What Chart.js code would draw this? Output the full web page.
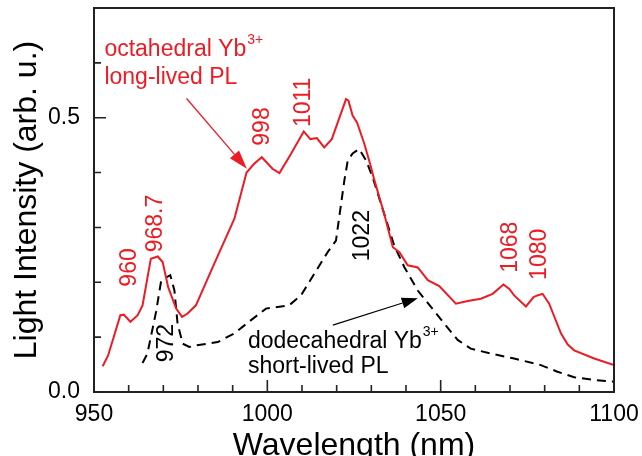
<!DOCTYPE html>
<html>
<head>
<meta charset="utf-8">
<script src="https://cdn.jsdelivr.net/npm/chart.js@4"></script>
<style>
  body { margin: 0; background: #fff; }
  canvas { display: block; }
</style>
</head>
<body>
<canvas id="pl_chart" width="642" height="456"></canvas>
<script>
// octahedral Yb3+ (long-lived PL), red solid
var octaWl = [952.5, 954.1, 957.6, 958.6, 960.5, 962.6, 964.0, 966.4, 968.4, 969.8, 971.4, 973.7, 975.4, 977.0, 979.4,
  984.7, 990.5, 994.0, 996.2, 998.4, 1001.5, 1003.5, 1006.8, 1010.5, 1012.4, 1014.3, 1016.4, 1018.6, 1022.7, 1023.4,
  1024.6, 1025.9, 1028.0, 1029.9, 1030.8, 1033.7, 1036.2, 1038.1, 1040.5, 1043.4, 1046.3, 1049.6, 1054.4, 1057.8,
  1061.6, 1065.0, 1068.1, 1069.8, 1071.2, 1074.6, 1076.8, 1077.9, 1079.4, 1081.3, 1084.7, 1086.6, 1088.5, 1094.3, 1100];
var octaInt = [0.047, 0.067, 0.140, 0.141, 0.128, 0.140, 0.158, 0.243, 0.247, 0.237, 0.191, 0.152, 0.137, 0.143, 0.158,
  0.234, 0.316, 0.400, 0.416, 0.428, 0.407, 0.399, 0.434, 0.475, 0.461, 0.463, 0.446, 0.461, 0.534, 0.531,
  0.504, 0.491, 0.452, 0.410, 0.388, 0.325, 0.264, 0.255, 0.231, 0.227, 0.204, 0.193, 0.161, 0.166,
  0.170, 0.179, 0.196, 0.188, 0.176, 0.156, 0.173, 0.176, 0.179, 0.161, 0.107, 0.087, 0.076, 0.061, 0.049];

// dodecahedral Yb3+ (short-lived PL), black dashed
var dodeWl = [964.0, 965.4, 967.9, 969.3, 970.3, 972.0, 973.2, 974.1, 975.6, 977.5, 979.4, 982.8, 985.7, 990.5, 995.3,
  999.6, 1006.3, 1009.7, 1013.6, 1017.4, 1019.8, 1022.2, 1023.2, 1024.6, 1026.5, 1028.5, 1030.4, 1033.7, 1036.6,
  1039.5, 1043.4, 1047.2, 1051.0, 1054.9, 1058.7, 1064.5, 1071.2, 1078.9, 1083.7, 1088.5, 1094.3, 1100];
var dodeInt = [0.053, 0.070, 0.146, 0.200, 0.207, 0.213, 0.185, 0.125, 0.088, 0.082, 0.085, 0.088, 0.091, 0.107, 0.131,
  0.152, 0.158, 0.176, 0.216, 0.255, 0.276, 0.385, 0.422, 0.435, 0.443, 0.422, 0.391, 0.325, 0.267,
  0.228, 0.185, 0.155, 0.125, 0.095, 0.079, 0.070, 0.061, 0.049, 0.037, 0.027, 0.022, 0.019];

// peak labels (rotated), placed at wavelength / intensity
var peakText = ['960', '968.7', '998', '1011', '1068', '1080', '972', '1022'];
var peakWl   = [960.3, 967.8, 998.7, 1010.5, 1070.1, 1078.5, 971.0, 1027.6];
var peakInt  = [0.227, 0.307, 0.484, 0.528, 0.264, 0.251, 0.089, 0.285];
var peakRed  = [true, true, true, true, true, true, false, false];

var RED = 'rgb(237,28,36)';
var FONT = "'Liberation Sans', Arial, sans-serif";

function pts(xs, ys) {
  return xs.map(function (v, i) { return {x: v, y: ys[i]}; });
}

function arrow(ctx, x0, y0, x1, y1, headLen, headW, color, lw) {
  var ang = Math.atan2(y1 - y0, x1 - x0);
  ctx.save();
  ctx.strokeStyle = color;
  ctx.fillStyle = color;
  ctx.lineWidth = lw;
  ctx.beginPath();
  ctx.moveTo(x0, y0);
  ctx.lineTo(x1 - headLen * Math.cos(ang), y1 - headLen * Math.sin(ang));
  ctx.stroke();
  ctx.translate(x1, y1);
  ctx.rotate(ang);
  ctx.beginPath();
  ctx.moveTo(0, 0);
  ctx.lineTo(-headLen, -headW / 2);
  ctx.lineTo(-headLen, headW / 2);
  ctx.closePath();
  ctx.fill();
  ctx.restore();
}

function textWithSup(ctx, main, sup, x, y, color) {
  ctx.fillStyle = color;
  ctx.font = '23px ' + FONT;
  ctx.fillText(main, x, y);
  var w = ctx.measureText(main).width;
  ctx.font = '14px ' + FONT;
  ctx.fillText(sup, x + w + 1, y - 12);
}

var frameAndNotes = {
  id: 'frameAndNotes',
  afterDatasetsDraw: function (chart) {
    var ctx = chart.ctx, a = chart.chartArea;
    var xs = chart.scales.x, ys = chart.scales.y;
    ctx.save();

    // frame
    ctx.strokeStyle = '#222';
    ctx.lineWidth = 2;
    ctx.strokeRect(a.left, a.top, a.right - a.left, a.bottom - a.top);

    // inward ticks
    ctx.lineWidth = 1.6;
    ctx.beginPath();
    xs.ticks.forEach(function (t) {
      var px = xs.getPixelForValue(t.value);
      var len = Math.abs(t.value % 50) < 1e-6 ? 12 : 7;
      ctx.moveTo(px, a.bottom);
      ctx.lineTo(px, a.bottom - len);
    });
    ys.ticks.forEach(function (t) {
      var py = ys.getPixelForValue(t.value);
      var r = t.value / 0.5;
      var len = Math.abs(r - Math.round(r)) < 1e-6 ? 12 : 7;
      ctx.moveTo(a.left, py);
      ctx.lineTo(a.left + len, py);
    });
    ctx.stroke();

    // rotated peak labels
    ctx.font = '23px ' + FONT;
    ctx.textAlign = 'center';
    ctx.textBaseline = 'middle';
    peakText.forEach(function (s, i) {
      ctx.save();
      ctx.translate(xs.getPixelForValue(peakWl[i]), ys.getPixelForValue(peakInt[i]));
      ctx.rotate(-Math.PI / 2);
      ctx.fillStyle = peakRed[i] ? RED : '#000';
      ctx.fillText(s, 0, 0);
      ctx.restore();
    });

    // text blocks
    ctx.textAlign = 'left';
    ctx.textBaseline = 'alphabetic';
    textWithSup(ctx, 'octahedral Yb', '3+', xs.getPixelForValue(953.0), ys.getPixelForValue(0.613), RED);
    ctx.font = '23px ' + FONT;
    ctx.fillText('long-lived PL', xs.getPixelForValue(953.0), ys.getPixelForValue(0.562));
    textWithSup(ctx, 'dodecahedral Yb', '3+', xs.getPixelForValue(994.4), ys.getPixelForValue(0.081), '#000');
    ctx.font = '23px ' + FONT;
    ctx.fillText('short-lived PL', xs.getPixelForValue(994.4), ys.getPixelForValue(0.034));

    // arrows
    arrow(ctx, xs.getPixelForValue(976.7), ys.getPixelForValue(0.535),
      xs.getPixelForValue(994.1), ys.getPixelForValue(0.407), 19, 12, RED, 1.3);
    arrow(ctx, xs.getPixelForValue(1018.9), ys.getPixelForValue(0.122),
      xs.getPixelForValue(1043.4), ys.getPixelForValue(0.171), 16, 11, '#000', 1.2);

    // axis titles
    ctx.fillStyle = '#000';
    ctx.font = '32px ' + FONT;
    ctx.textAlign = 'center';
    ctx.textBaseline = 'alphabetic';
    ctx.fillText('Wavelength (nm)', (a.left + a.right) / 2, 455);
    ctx.save();
    ctx.translate(36, 200);
    ctx.rotate(-Math.PI / 2);
    ctx.fillText('Light Intensity (arb. u.)', 0, 0);
    ctx.restore();

    ctx.restore();
  }
};

new Chart(document.getElementById('pl_chart'), {
  type: 'line',
  data: {
    datasets: [
      {
        data: pts(octaWl, octaInt),
        borderColor: RED,
        borderWidth: 2,
        pointRadius: 0,
        tension: 0,
        fill: false
      },
      {
        data: pts(dodeWl, dodeInt),
        borderColor: '#000',
        borderWidth: 2,
        borderDash: [9, 6],
        pointRadius: 0,
        tension: 0,
        fill: false
      }
    ]
  },
  options: {
    responsive: false,
    animation: false,
    layout: { padding: { top: 8, right: 28, left: 0, bottom: 0 } },
    plugins: { legend: { display: false }, tooltip: { enabled: false } },
    scales: {
      x: {
        type: 'linear',
        min: 950, max: 1100,
        grid: { display: false, drawTicks: false },
        border: { display: false },
        afterFit: function (s) {
          s.height = 64;
          s.paddingLeft = 0; s.paddingRight = 0;
        },
        ticks: {
          stepSize: 10,
          autoSkip: false,
          maxRotation: 0,
          padding: 9,
          color: '#000',
          font: { family: FONT, size: 23 },
          callback: function (v) { return v % 50 === 0 ? String(v) : ''; }
        }
      },
      y: {
        min: 0, max: 0.7,
        grid: { display: false, drawTicks: false },
        border: { display: false },
        afterFit: function (s) {
          s.width = 94;
          s.paddingTop = 0; s.paddingBottom = 0;
        },
        ticks: {
          stepSize: 0.1,
          autoSkip: false,
          padding: 14,
          color: '#000',
          font: { family: FONT, size: 23 },
          callback: function (v) {
            return (Math.abs(v) < 1e-6 || Math.abs(v - 0.5) < 1e-6) ? v.toFixed(1) : '';
          }
        }
      }
    }
  },
  plugins: [frameAndNotes]
});
</script>
</body>
</html>
